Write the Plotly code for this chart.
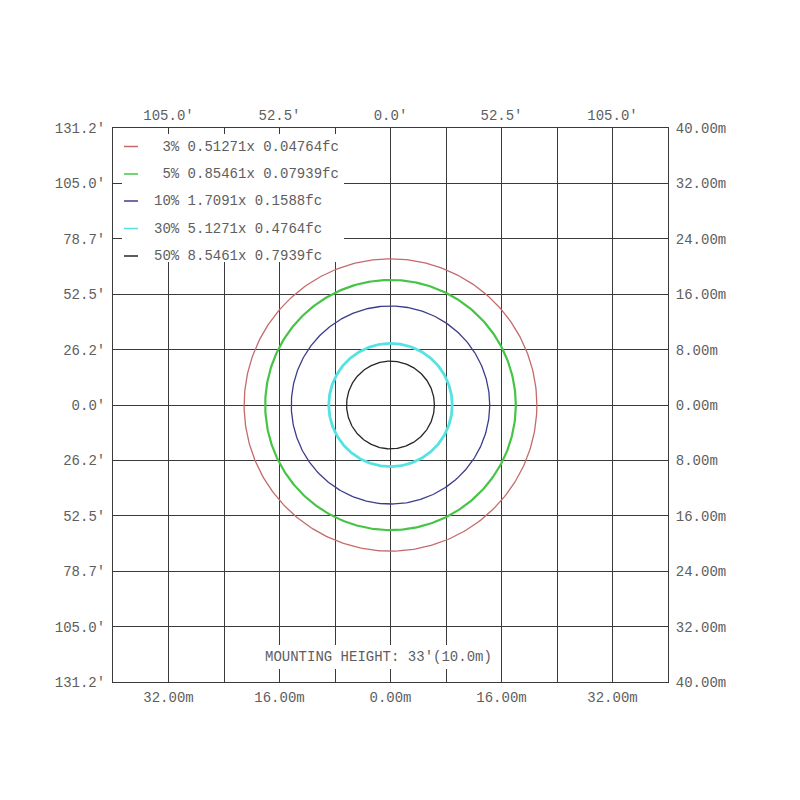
import numpy as np
import plotly.graph_objects as go

# ---- data ----
levels = ["3%", "5%", "10%", "30%", "50%"]
lux = ["0.51271x", "0.85461x", "1.7091x", "5.1271x", "8.5461x"]
fc = ["0.04764fc", "0.07939fc", "0.1588fc", "0.4764fc", "0.7939fc"]
radius_m = [21.1, 18.06, 14.3, 8.9, 6.33]
colors = ["#c46a6a", "#46c446", "#3c3c8c", "#55e2e2", "#262626"]
widths = [1.3, 2.2, 1.3, 2.8, 1.3]

grid_m = [-40, -32, -24, -16, -8, 0, 8, 16, 24, 32, 40]
left_ft_labels = ["131.2'", "105.0'", "78.7'", "52.5'", "26.2'", "0.0'",
                  "26.2'", "52.5'", "78.7'", "105.0'", "131.2'"]
right_m_labels = ["40.00m", "32.00m", "24.00m", "16.00m", "8.00m", "0.00m",
                  "8.00m", "16.00m", "24.00m", "32.00m", "40.00m"]
top_ft_labels = ["", "105.0'", "", "52.5'", "", "0.0'", "", "52.5'", "", "105.0'", ""]
bottom_m_labels = ["", "32.00m", "", "16.00m", "", "0.00m", "", "16.00m", "", "32.00m", ""]
mounting_text = "MOUNTING HEIGHT: 33'(10.0m)"

FONT = "Liberation Mono, Courier New, monospace"
TXT = "#5e5e5e"
GRID = "#3a3a3a"

# page offset (body margin) and plot area in page pixels
OFF = 8
L, R, T, B = 113, 668, 128, 682
W, H = 800 - OFF, 800 - OFF


def px(xp):
    return (xp - L) / (R - L)


def py(yp):
    return (B - yp) / (B - T)


fig = go.Figure()
theta = np.linspace(0, 2 * np.pi, 361)
for r, c, w, lv in zip(radius_m, colors, widths, levels):
    fig.add_trace(go.Scatter(x=r * np.cos(theta), y=r * np.sin(theta), mode="lines",
                             line=dict(color=c, width=w), name=lv, showlegend=False,
                             hoverinfo="skip"))
# invisible trace for secondary axes
fig.add_trace(go.Scatter(x=[0], y=[0], xaxis="x2", yaxis="y2", mode="markers",
                         marker=dict(opacity=0), showlegend=False, hoverinfo="skip"))

axis_common = dict(range=[-40, 40], tickvals=grid_m, showline=True, linecolor=GRID,
                   linewidth=1, zeroline=False, ticks="",
                   tickfont=dict(family=FONT, size=14, color=TXT), fixedrange=True)

fig.update_layout(
    width=W, height=H, paper_bgcolor="white", plot_bgcolor="white",
    margin=dict(l=L - OFF, r=W - (R - OFF), t=T - OFF, b=H - (B - OFF)),
    xaxis=dict(**axis_common, ticktext=bottom_m_labels, showgrid=True, gridcolor=GRID,
               gridwidth=1, mirror=False, ticklabelstandoff=2),
    yaxis=dict(**axis_common, ticktext=left_ft_labels, showgrid=True, gridcolor=GRID,
               gridwidth=1, mirror=False, ticklabelstandoff=4),
    xaxis2=dict(**axis_common, ticktext=top_ft_labels, overlaying="x", side="top",
                showgrid=False, anchor="y", ticklabelstandoff=1),
    yaxis2=dict(**axis_common, ticktext=right_m_labels, overlaying="y", side="right",
                showgrid=False, anchor="x", ticklabelstandoff=4),
    showlegend=False,
)

shapes = []
# white box behind legend
shapes.append(dict(type="rect", xref="paper", yref="paper", x0=px(122), x1=px(344),
                   y0=py(262), y1=py(134), fillcolor="white", line=dict(width=0),
                   layer="above"))
# white box behind mounting text
shapes.append(dict(type="rect", xref="paper", yref="paper", x0=px(258), x1=px(497),
                   y0=py(669), y1=py(645), fillcolor="white", line=dict(width=0),
                   layer="above"))

annotations = []
row_y = [146.5, 174, 201, 228.5, 256]
for i, (lv, lx, f, c) in enumerate(zip(levels, lux, fc, colors)):
    shapes.append(dict(type="line", xref="paper", yref="paper", x0=px(124), x1=px(138),
                       y0=py(row_y[i]), y1=py(row_y[i]), line=dict(color=c, width=1.5),
                       layer="above"))
    label = f"{lv:>3} {lx} {f}".replace(" ", "\u00a0")
    annotations.append(dict(xref="paper", yref="paper", x=px(152), y=py(row_y[i]),
                            xanchor="left", yanchor="middle", text=label, showarrow=False,
                            font=dict(family=FONT, size=14, color=TXT)))

annotations.append(dict(xref="paper", yref="paper", x=px(378), y=py(657),
                        xanchor="center", yanchor="middle", text=mounting_text,
                        showarrow=False, font=dict(family=FONT, size=14, color=TXT)))

fig.update_layout(shapes=shapes, annotations=annotations)
fig.write_html("out.html")
